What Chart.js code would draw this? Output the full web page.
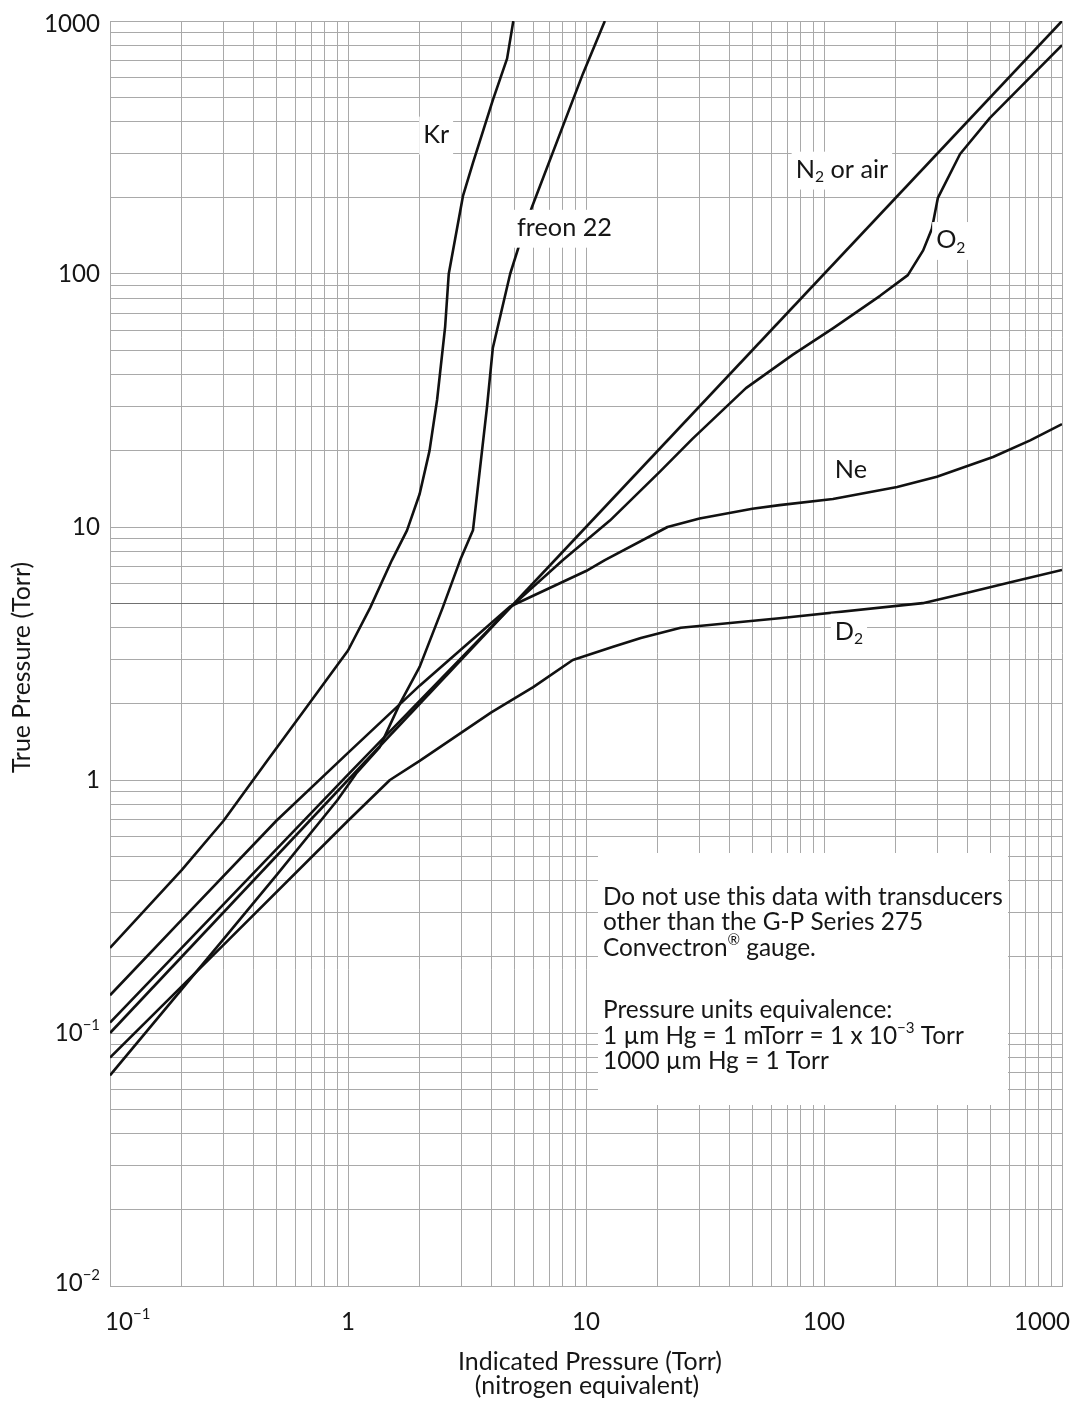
<!DOCTYPE html>
<html>
<head>
<meta charset="utf-8">
<script src="https://cdn.jsdelivr.net/npm/chart.js@4.4.1/dist/chart.umd.min.js"></script>
<style>
  html, body { margin: 0; padding: 0; background: #fff; }
  canvas { display: block; }
</style>
</head>
<body>
<canvas id="myChart" width="1086" height="1401"></canvas>
<script>
// indicated pressure (N2 equivalent) -> true pressure, Torr
const n2X = [0.1, 1000];
const n2Y = [0.1, 1000];

const krX = [0.1, 0.2, 0.3, 0.46, 0.68, 1.0, 1.24, 1.53, 1.77, 2.0, 2.2, 2.37, 2.56, 2.65, 3.04, 3.35, 4.06, 4.66, 4.95];
const krY = [0.217, 0.44, 0.69, 1.2, 1.98, 3.25, 4.8, 7.4, 9.7, 13.5, 20, 32, 62, 100, 203, 275, 487, 710, 1000];

const freonX = [0.1, 0.3, 0.5, 0.9, 1.09, 1.36, 1.65, 2.0, 2.5, 2.96, 3.35, 3.84, 4.06, 4.8, 5.28, 5.93, 9.7, 12];
const freonY = [0.068, 0.235, 0.42, 0.83, 1.07, 1.35, 2.0, 2.8, 4.8, 7.4, 9.7, 30, 51, 100, 133, 184, 618, 1000];

const o2X = [0.1, 1, 4.8, 8, 12.6, 20.5, 28, 47, 74, 109, 172, 225, 261, 284, 301, 373, 498, 1000];
const o2Y = [0.11, 1.05, 4.8, 7.4, 10.6, 16.6, 22.3, 35.4, 48, 61, 82, 99, 124, 151, 200, 298, 414, 803];

const neX = [0.1, 0.2, 0.5, 1, 2, 4.8, 10, 12, 22, 30, 50, 65, 109, 203, 298, 513, 735, 1000];
const neY = [0.141, 0.28, 0.69, 1.28, 2.36, 4.85, 6.7, 7.4, 10, 10.8, 11.8, 12.2, 12.9, 14.4, 15.8, 18.9, 22, 25.5];

const d2X = [0.1, 0.3, 1.0, 1.5, 2, 4, 6, 8.8, 13, 17, 25, 65, 260, 400, 620, 1000];
const d2Y = [0.08, 0.223, 0.69, 1.0, 1.19, 1.85, 2.33, 2.98, 3.36, 3.64, 4.0, 4.36, 5.0, 5.5, 6.07, 6.76];

// axis ticks (^{..} = superscript, _{..} = subscript)
const xTickValues = [0.1, 1, 10, 100, 1000];
const xTickLabels = ['10^{−1}', '1', '10', '100', '1000'];
const yTickValues = [0.01, 0.1, 1, 10, 100, 1000];
const yTickLabels = ['10^{−2}', '10^{−1}', '1', '10', '100', '1000'];

// curve names and where they sit (data coords of the left/middle of the text)
const curveNames = ['Kr', 'freon 22', 'N_{2} or air', 'O_{2}', 'Ne', 'D_{2}'];
const nameX = [2.07, 5.13, 76, 296, 111, 111];
const nameY = [355, 152, 258, 136, 16.8, 3.85];

const noteLines = [
  'Do not use this data with transducers',
  'other than the G-P Series 275',
  'Convectron^{®} gauge.',
  '',
  'Pressure units equivalence:',
  '1 µm Hg = 1 mTorr = 1 x 10^{−3} Torr',
  '1000 µm Hg = 1 Torr'
];

const fontFamily = 'Lato, "DejaVu Sans", sans-serif';
const ink = '#161616';

function decades(lo, hi) {
  const out = [];
  for (let e = lo; e < hi; e++) {
    for (let m = 1; m < 10; m++) out.push(parseFloat((m * Math.pow(10, e)).toPrecision(3)));
  }
  out.push(Math.pow(10, hi));
  return out;
}
const xGrid = decades(-1, 3);
const yGrid = decades(-2, 3);

function richParts(str) {
  return str.split(/(\^\{[^}]*\}|_\{[^}]*\})/).filter(s => s).map(s => {
    if (s.startsWith('^{')) return { t: s.slice(2, -1), mode: 'sup' };
    if (s.startsWith('_{')) return { t: s.slice(2, -1), mode: 'sub' };
    return { t: s, mode: '' };
  });
}
function richWidth(ctx, str, size) {
  let w = 0;
  for (const p of richParts(str)) {
    ctx.font = (p.mode ? size * 0.62 : size) + 'px ' + fontFamily;
    w += ctx.measureText(p.t).width;
  }
  return w;
}
function drawRich(ctx, str, x, y, size, align) {
  const w = richWidth(ctx, str, size);
  let cx = align === 'right' ? x - w : align === 'center' ? x - w / 2 : x;
  ctx.textBaseline = 'middle';
  ctx.textAlign = 'left';
  for (const p of richParts(str)) {
    const s = p.mode ? size * 0.62 : size;
    ctx.font = s + 'px ' + fontFamily;
    const dy = p.mode === 'sup' ? -size * 0.32 : p.mode === 'sub' ? size * 0.3 : 0;
    ctx.fillText(p.t, cx, y + dy);
    cx += ctx.measureText(p.t).width;
  }
  return w;
}
// pick a font size so a sample string gets the wanted width
function fitSize(ctx, str, width) {
  return 20 * width / richWidth(ctx, str, 20);
}

const paperText = {
  id: 'paperText',
  afterDatasetsDraw(chart) {
    const { ctx, chartArea: a, scales: { x, y } } = chart;
    ctx.save();
    ctx.fillStyle = ink;

    // tick labels
    const tickSize = fitSize(ctx, '1000', 56);
    xTickValues.forEach((v, i) => {
      const w = richWidth(ctx, xTickLabels[i], tickSize);
      let px = x.getPixelForValue(v);
      px = Math.min(Math.max(px, a.left - 5 + w / 2), a.right + 8 - w / 2);
      drawRich(ctx, xTickLabels[i], px, a.bottom + 36, tickSize, 'center');
    });
    yTickValues.forEach((v, i) => {
      let py = y.getPixelForValue(v);
      py = Math.min(Math.max(py, a.top + 3), a.bottom - 3);
      drawRich(ctx, yTickLabels[i], a.left - 10, py, tickSize, 'right');
    });

    // axis titles
    const titleSize = fitSize(ctx, 'Indicated Pressure (Torr)', 264);
    const midX = (a.left + a.right) / 2;
    drawRich(ctx, 'Indicated Pressure (Torr)', midX + 4, a.bottom + 76, titleSize, 'center');
    drawRich(ctx, '(nitrogen equivalent)', midX + 1, a.bottom + 100, titleSize, 'center');
    ctx.save();
    ctx.translate(22, (a.top + a.bottom) / 2 + 14);
    ctx.rotate(-Math.PI / 2);
    drawRich(ctx, 'True Pressure (Torr)', 0, 0, titleSize, 'center');
    ctx.restore();

    // curve names on white patches
    const nameSize = fitSize(ctx, 'freon 22', 95);
    curveNames.forEach((name, i) => {
      const px = x.getPixelForValue(nameX[i]);
      const py = y.getPixelForValue(nameY[i]);
      const w = richWidth(ctx, name, nameSize);
      ctx.fillStyle = '#fff';
      ctx.fillRect(px - 4, py - nameSize * 0.72, w + 8, nameSize * 1.5);
      ctx.fillStyle = ink;
      drawRich(ctx, name, px, py, nameSize, 'left');
    });

    // note box
    const noteSize = fitSize(ctx, noteLines[0], 400);
    ctx.fillStyle = '#fff';
    ctx.fillRect(598, 853, 410, 252);
    ctx.fillStyle = ink;
    let ly = 897;
    noteLines.forEach((line, i) => {
      if (line) drawRich(ctx, line, 603, ly, noteSize, 'left');
      ly += (i === 3) ? 37 : 25.5;
    });
    ctx.restore();
  }
};

function series(xs, ys) {
  return xs.map((v, i) => ({ x: v, y: ys[i] }));
}
const lineStyle = {
  showLine: true,
  borderColor: '#111',
  borderWidth: 2.6,
  borderJoinStyle: 'round',
  pointRadius: 0,
  fill: false,
  tension: 0
};

const gridColor = '#a9a9a9';

const config = {
  type: 'scatter',
  data: {
    datasets: [
      { label: 'N2 or air', data: series(n2X, n2Y), ...lineStyle },
      { label: 'Kr', data: series(krX, krY), ...lineStyle },
      { label: 'freon 22', data: series(freonX, freonY), ...lineStyle },
      { label: 'O2', data: series(o2X, o2Y), ...lineStyle },
      { label: 'Ne', data: series(neX, neY), ...lineStyle },
      { label: 'D2', data: series(d2X, d2Y), ...lineStyle }
    ]
  },
  options: {
    responsive: false,
    devicePixelRatio: 1,
    animation: false,
    layout: { padding: { top: 21, right: 24, left: 0, bottom: 0 } },
    plugins: {
      legend: { display: false },
      tooltip: { enabled: false }
    },
    scales: {
      x: {
        type: 'logarithmic',
        min: 0.1,
        max: 1000,
        afterBuildTicks: s => { s.ticks = xGrid.map(v => ({ value: v })); },
        afterFit: s => { s.height = 115; },
        ticks: { display: false },
        grid: { color: gridColor, lineWidth: 1, drawTicks: false },
        border: { color: gridColor }
      },
      y: {
        type: 'logarithmic',
        min: 0.01,
        max: 1000,
        afterBuildTicks: s => { s.ticks = yGrid.map(v => ({ value: v })); },
        afterFit: s => { s.width = 110; },
        ticks: { display: false },
        grid: {
          color: c => (c.tick && c.tick.value === 5) ? '#707070' : gridColor,
          lineWidth: 1,
          drawTicks: false
        },
        border: { color: gridColor }
      }
    }
  },
  plugins: [paperText]
};

const myChart = new Chart(document.getElementById('myChart'), config);
</script>
</body>
</html>
